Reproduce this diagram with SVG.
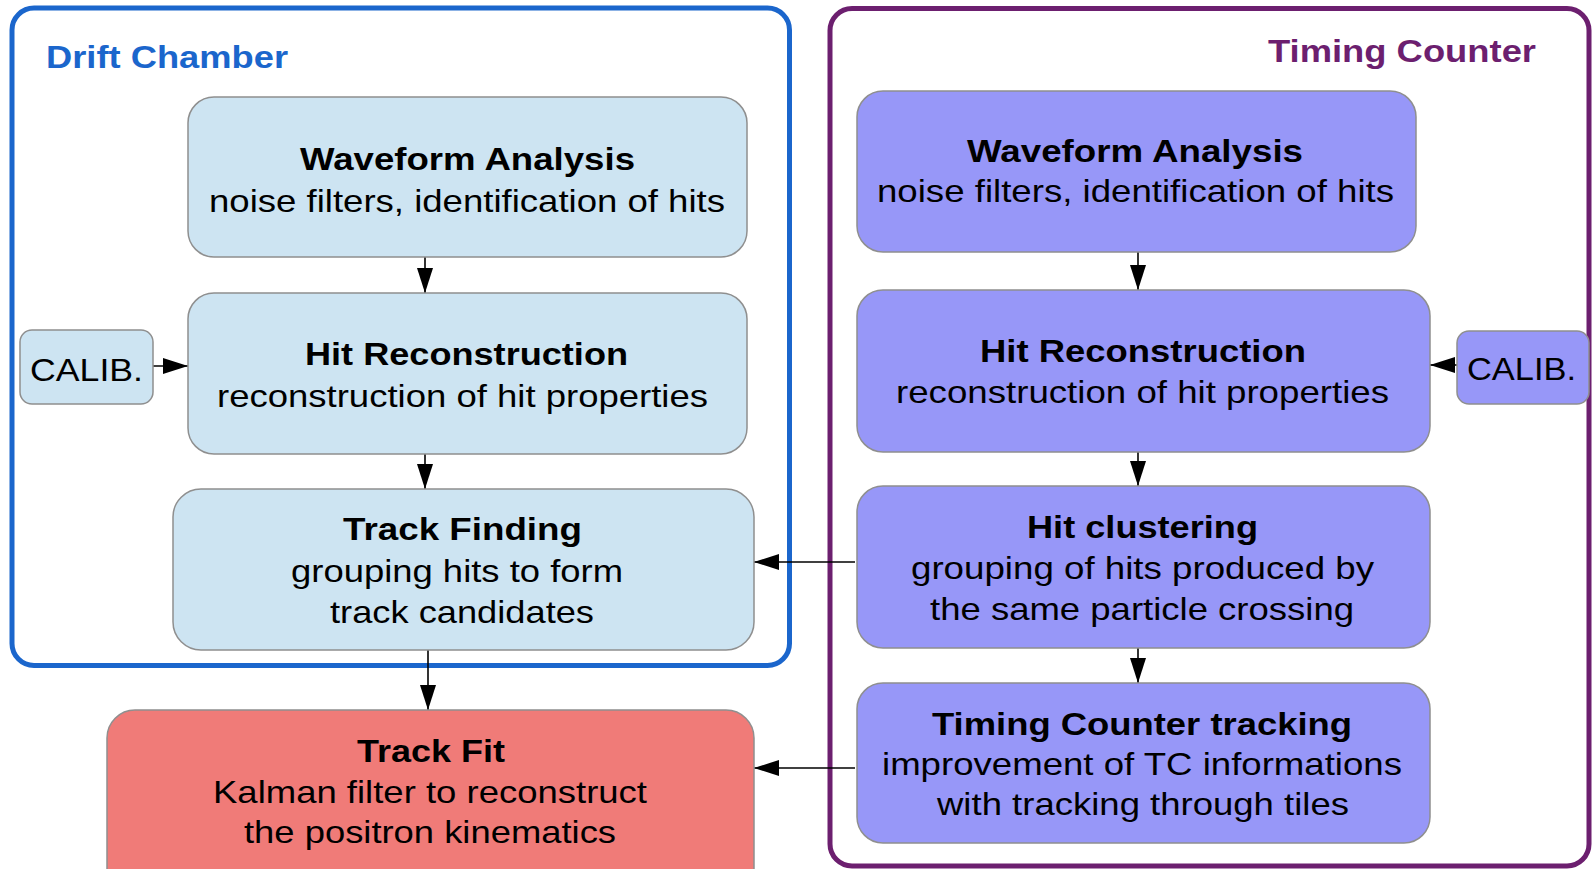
<svg xmlns="http://www.w3.org/2000/svg" width="1593" height="869" viewBox="0 0 1593 869">
  <defs>
    <style>
      .t { font-family: "Liberation Sans", Arial, Helvetica, sans-serif; font-size: 32px; fill: #000; text-anchor: middle; }
      .b { font-weight: bold; }
      .title { font-family: "Liberation Sans", Arial, Helvetica, sans-serif; font-size: 32px; font-weight: bold; }
      .dc { fill: #cde4f2; stroke: #8f8f8f; stroke-width: 1.5; }
      .tc { fill: #9797f8; stroke: #8f8f8f; stroke-width: 1.5; }
      .fit { fill: #f07b78; stroke: #8f8f8f; stroke-width: 1.5; }
      .conn { stroke: #000; stroke-width: 1.6; fill: none; marker-end: url(#arr); }
    </style>
    <marker id="arr" markerUnits="userSpaceOnUse" markerWidth="25" markerHeight="16" refX="25" refY="8" orient="auto">
      <path d="M0,0 L25,8 L0,16 z" fill="#000"/>
    </marker>
  </defs>
  <rect width="1593" height="869" fill="#fff"/>

  <g id="group-drift-chamber">
    <rect x="12" y="8" width="777.5" height="657.5" rx="22" fill="none" stroke="#1b66cc" stroke-width="5"/>
    <text class="title" x="46" y="68" fill="#1b66cc" textLength="242" lengthAdjust="spacingAndGlyphs">Drift Chamber</text>
  </g>

  <g id="group-timing-counter">
    <rect x="830" y="8.5" width="759" height="857.5" rx="22" fill="none" stroke="#6c1f6f" stroke-width="5"/>
    <text class="title" x="1268" y="62" fill="#6c1f6f" textLength="268" lengthAdjust="spacingAndGlyphs">Timing Counter</text>
  </g>

  <g id="connectors">
    <line class="conn" x1="425" y1="257" x2="425" y2="293"/>
    <line class="conn" x1="153" y1="366" x2="188" y2="366"/>
    <line class="conn" x1="425" y1="454" x2="425" y2="489"/>
    <line class="conn" x1="428" y1="650" x2="428" y2="710"/>
    <line class="conn" x1="1138" y1="252" x2="1138" y2="290"/>
    <line class="conn" x1="1457" y1="365" x2="1430" y2="365"/>
    <line class="conn" x1="1138" y1="452" x2="1138" y2="486"/>
    <line class="conn" x1="855" y1="562" x2="754" y2="562"/>
    <line class="conn" x1="1138" y1="648" x2="1138" y2="683"/>
    <line class="conn" x1="855" y1="768" x2="754" y2="768"/>
  </g>

  <g id="dc-waveform">
    <rect class="dc" x="188" y="97" width="559" height="160" rx="26"/>
    <text class="t b" x="467.5" y="170" textLength="335" lengthAdjust="spacingAndGlyphs">Waveform Analysis</text>
    <text class="t" x="467" y="212" textLength="516" lengthAdjust="spacingAndGlyphs">noise filters, identification of hits</text>
  </g>

  <g id="dc-calib">
    <rect class="dc" x="20" y="330" width="133" height="74" rx="12"/>
    <text class="t" x="86.5" y="381" textLength="113" lengthAdjust="spacingAndGlyphs">CALIB.</text>
  </g>

  <g id="dc-hit-reconstruction">
    <rect class="dc" x="188" y="293" width="559" height="161" rx="26"/>
    <text class="t b" x="466.5" y="365" textLength="323" lengthAdjust="spacingAndGlyphs">Hit Reconstruction</text>
    <text class="t" x="462.5" y="407" textLength="491" lengthAdjust="spacingAndGlyphs">reconstruction of hit properties</text>
  </g>

  <g id="dc-track-finding">
    <rect class="dc" x="173" y="489" width="581" height="161" rx="28"/>
    <text class="t b" x="462.5" y="540" textLength="239" lengthAdjust="spacingAndGlyphs">Track Finding</text>
    <text class="t" x="457" y="582" textLength="332" lengthAdjust="spacingAndGlyphs">grouping hits to form</text>
    <text class="t" x="462" y="623" textLength="264" lengthAdjust="spacingAndGlyphs">track candidates</text>
  </g>

  <g id="track-fit">
    <rect class="fit" x="107" y="710" width="647" height="190" rx="28"/>
    <text class="t b" x="431" y="762" textLength="148" lengthAdjust="spacingAndGlyphs">Track Fit</text>
    <text class="t" x="430" y="803" textLength="434" lengthAdjust="spacingAndGlyphs">Kalman filter to reconstruct</text>
    <text class="t" x="430" y="843" textLength="372" lengthAdjust="spacingAndGlyphs">the positron kinematics</text>
  </g>

  <g id="tc-waveform">
    <rect class="tc" x="857" y="91" width="559" height="161" rx="26"/>
    <text class="t b" x="1135" y="162" textLength="336" lengthAdjust="spacingAndGlyphs">Waveform Analysis</text>
    <text class="t" x="1135.5" y="202" textLength="517" lengthAdjust="spacingAndGlyphs">noise filters, identification of hits</text>
  </g>

  <g id="tc-hit-reconstruction">
    <rect class="tc" x="857" y="290" width="573" height="162" rx="26"/>
    <text class="t b" x="1143" y="362" textLength="326" lengthAdjust="spacingAndGlyphs">Hit Reconstruction</text>
    <text class="t" x="1142.5" y="403" textLength="493" lengthAdjust="spacingAndGlyphs">reconstruction of hit properties</text>
  </g>

  <g id="tc-calib">
    <rect class="tc" x="1457" y="331" width="132" height="73" rx="12"/>
    <text class="t" x="1521.5" y="380" textLength="109" lengthAdjust="spacingAndGlyphs">CALIB.</text>
  </g>

  <g id="tc-hit-clustering">
    <rect class="tc" x="857" y="486" width="573" height="162" rx="26"/>
    <text class="t b" x="1142.5" y="538" textLength="231" lengthAdjust="spacingAndGlyphs">Hit clustering</text>
    <text class="t" x="1142.5" y="579" textLength="463" lengthAdjust="spacingAndGlyphs">grouping of hits produced by</text>
    <text class="t" x="1142" y="620" textLength="424" lengthAdjust="spacingAndGlyphs">the same particle crossing</text>
  </g>

  <g id="tc-tracking">
    <rect class="tc" x="857" y="683" width="573" height="160" rx="26"/>
    <text class="t b" x="1142" y="735" textLength="420" lengthAdjust="spacingAndGlyphs">Timing Counter tracking</text>
    <text class="t" x="1142" y="775" textLength="520" lengthAdjust="spacingAndGlyphs">improvement of TC informations</text>
    <text class="t" x="1143" y="815" textLength="412" lengthAdjust="spacingAndGlyphs">with tracking through tiles</text>
  </g>
</svg>
